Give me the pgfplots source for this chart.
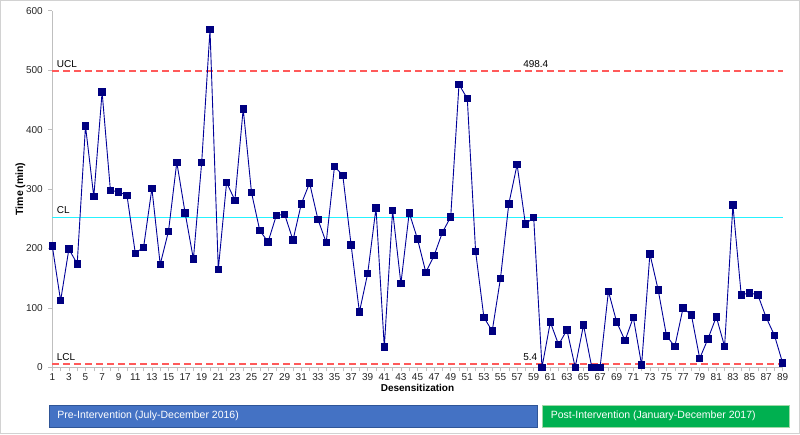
\documentclass[border=0pt]{standalone}
\usepackage{pgfplots}
\pgfplotsset{compat=1.18}
\usepackage{fontspec}
\setmainfont{Liberation Sans}
\usetikzlibrary{calc}

\definecolor{ptblue}{HTML}{000080}
\definecolor{ucl}{HTML}{FF5A5A}
\definecolor{centreline}{rgb}{0.15,0.95,1}
\definecolor{prebox}{HTML}{4472C4}
\definecolor{preedge}{HTML}{2F5597}
\definecolor{postbox}{HTML}{00B050}
\definecolor{postedge}{HTML}{9ED8A6}
\definecolor{axgray}{HTML}{BFBFBF}

\pgfplotstableread{
x y
1 204
2 112
3 199
4 174
5 406
6 287
7 463
8 298
9 295
10 289
11 192
12 202
13 301
14 173
15 229
16 345
17 260
18 182
19 345
20 568
21 165
22 311
23 281
24 435
25 294
26 230
27 211
28 256
29 257
30 214
31 275
32 310
33 249
34 210
35 338
36 323
37 206
38 93
39 158
40 268
41 34
42 264
43 141
44 260
45 216
46 160
47 188
48 227
49 253
50 476
51 452
52 195
53 84
54 61
55 150
56 275
57 341
58 241
59 252
60 0
61 76
62 38
63 63
64 0
65 71
66 0
67 0
68 128
69 76
70 45
71 84
72 4
73 191
74 130
75 53
76 35
77 100
78 88
79 15
80 48
81 85
82 35
83 273
84 122
85 125
86 122
87 84
88 54
89 7
}\timedata

\begin{document}
\begin{tikzpicture}[font=\fontsize{10}{12}\selectfont]
\begin{axis}[
  name=ax,
  scale only axis,
  width=730.4pt,
  height=356.6pt,
  xmin=1, xmax=89,
  ymin=0, ymax=600,
  clip=false,
  axis x line*=bottom,
  axis y line*=left,
  axis line style={axgray, line width=0.8pt, -},
  xtick={1,3,...,89},
  minor xtick={2,4,...,88},
  ytick={0,100,...,600},
  tick style={axgray, line width=0.6pt},
  tick align=outside,
  major tick length=4pt,
  minor tick length=4pt,
  tick label style={font=\fontsize{10}{12}\selectfont, text=black!85},
  /pgf/number format/assume math mode=true,
  xticklabel style={yshift=1pt},
  yticklabel style={xshift=-2pt},
  xlabel={\textbf{Desensitization}},
  ylabel={\textbf{Time (min)}},
  xlabel style={yshift=4pt},
  ylabel style={yshift=-6pt, font=\fontsize{10.5}{12}\selectfont},
]
% control limits
\addplot[color=ucl, line width=1.4pt, dash pattern=on 7pt off 4pt] coordinates {(1,498.4) (89,498.4)};
\addplot[color=ucl, line width=1.4pt, dash pattern=on 7pt off 4pt] coordinates {(1,5.4) (89,5.4)};
\addplot[color=centreline, line width=1.4pt, solid] coordinates {(1,252) (89,252)};
% data
\addplot[color=ptblue!80!blue, line width=0.9pt, mark=square*,
  mark size=3.2pt, mark options={solid, fill=ptblue, draw=ptblue}] table[x=x, y=y] {\timedata};
\node[anchor=south west, inner sep=1pt] at (axis cs:1.4,503) {UCL};
\node[anchor=south west, inner sep=1pt] at (axis cs:1.4,257) {CL};
\node[anchor=south west, inner sep=1pt] at (axis cs:1.4,10) {LCL};
\node[anchor=south west, inner sep=1pt] at (axis cs:57.6,503) {498.4};
\node[anchor=south west, inner sep=1pt] at (axis cs:57.6,10) {5.4};
\end{axis}
% phase boxes
\draw[preedge, fill=prebox, line width=0.8pt]
  ($(ax.south west)+(-3.3pt,-37.7pt)$) rectangle ($(ax.south west)+(484.7pt,-59.7pt)$);
\node[anchor=west, text=white, font=\fontsize{10.5}{12}\selectfont]
  at ($(ax.south west)+(1.5pt,-48.7pt)$) {Pre-Intervention (July-December 2016)};
\draw[postedge, fill=postbox, line width=0.8pt]
  ($(ax.south west)+(489.7pt,-37.7pt)$) rectangle ($(ax.south west)+(736.7pt,-59.7pt)$);
\node[anchor=west, text=white, font=\fontsize{10.5}{12}\selectfont]
  at ($(ax.south west)+(495pt,-48.7pt)$) {Post-Intervention (January-December 2017)};
% outer frame
\draw[gray!35, line width=1pt]
  ($(ax.south west)+(-51.8pt,-66.2pt)$) rectangle ($(ax.north east)+(16.8pt,10.2pt)$);
\end{tikzpicture}
\end{document}
